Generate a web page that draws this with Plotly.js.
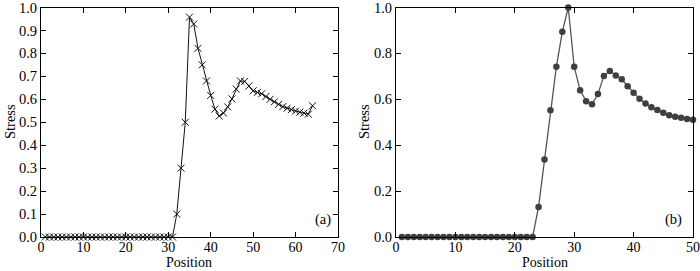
<!DOCTYPE html>
<html>
<head>
<meta charset="utf-8">
<script src="https://cdn.plot.ly/plotly-3.0.1.min.js"></script>
<style>html,body{margin:0;padding:0;background:#fff;}#chart{width:700px;height:271px;}</style>
</head>
<body>
<div id="chart"></div>
<script>
// Panel (a)
const posA = Array.from({length: 64}, (_, i) => i + 1);
const stressA = [
  0,0,0,0,0,0,0,0,0,0,
  0,0,0,0,0,0,0,0,0,0,
  0,0,0,0,0,0,0,0,0,0,
  0,
  0.10, 0.30, 0.50, 0.958, 0.928, 0.822, 0.750, 0.680, 0.617, 0.557,
  0.527, 0.540, 0.567, 0.602, 0.645, 0.680, 0.678, 0.658, 0.637, 0.630,
  0.624, 0.612, 0.600, 0.589, 0.578, 0.568, 0.561, 0.555, 0.549, 0.544,
  0.540, 0.535, 0.572
];
// Panel (b)
const posB = Array.from({length: 50}, (_, i) => i + 1);
const stressB = [
  0,0,0,0,0,0,0,0,0,0,
  0,0,0,0,0,0,0,0,0,0,
  0,0,0,
  0.131, 0.338, 0.552, 0.742, 0.894, 1.0, 0.742, 0.639, 0.592, 0.578, 0.623,
  0.702, 0.723, 0.704, 0.687, 0.657, 0.628, 0.602, 0.582, 0.565, 0.553,
  0.541, 0.531, 0.524, 0.520, 0.514, 0.511
];
const ticksA = [0,10,20,30,40,50,60,70];
const yticksA = [0,0.1,0.2,0.3,0.4,0.5,0.6,0.7,0.8,0.9,1.0];
const ticksB = [0,10,20,30,40,50];
const yticksB = [0,0.2,0.4,0.6,0.8,1.0];
const labelA = '(a)';
const labelB = '(b)';
const xTitle = 'Position';
const yTitle = 'Stress';

const fontFam = '"Liberation Serif", "Times New Roman", serif';
const tf = {family: fontFam, size: 14.5, color: '#000'};
const xf = {family: fontFam, size: 14, color: '#000'};
const traces = [
  {x: posA, y: stressA, xaxis: 'x', yaxis: 'y', mode: 'lines+markers', type: 'scatter',
   line: {color: '#111', width: 1},
   marker: {symbol: 'x-thin', size: 7, line: {color: '#111', width: 1}, color: '#111'},
   cliponaxis: false},
  {x: posB, y: stressB, xaxis: 'x2', yaxis: 'y2', mode: 'lines+markers', type: 'scatter',
   line: {color: '#555', width: 1.3},
   marker: {symbol: 'circle', size: 6.5, color: '#3f3f3f'},
   cliponaxis: false}
];
const axBase = {
  showline: true, mirror: 'ticks', linecolor: '#000', linewidth: 1,
  ticks: 'inside', ticklen: 5, tickcolor: '#000', tickwidth: 1,
  showgrid: false, zeroline: false, ticklabeloverflow: 'allow',
  tickfont: tf
};
const dA = [41/700, 338/700], dB = [396/700, 693/700];
const dy = [1-237/271, 1-7.5/271];
const layout = {
  width: 700, height: 271,
  margin: {l: 0, r: 0, t: 0, b: 0},
  paper_bgcolor: '#fff', plot_bgcolor: '#fff',
  showlegend: false,
  font: {family: fontFam, color: '#000'},
  xaxis: Object.assign({}, axBase, {domain: dA, range: [0, 70], tickvals: ticksA, anchor: 'y',
    tickfont: xf, ticklabelstandoff: -3}),
  yaxis: Object.assign({}, axBase, {domain: dy, range: [0, 1], tickvals: yticksA,
    tickformat: '.1f', anchor: 'x'}),
  xaxis2: Object.assign({}, axBase, {domain: dB, range: [0, 50], tickvals: ticksB, anchor: 'y2',
    tickfont: xf, ticklabelstandoff: -3}),
  yaxis2: Object.assign({}, axBase, {domain: dy, range: [0, 1], tickvals: yticksB,
    tickformat: '.1f', anchor: 'x2'}),
  annotations: [
    {text: labelA, xref: 'x', yref: 'y', x: 66.5, y: 0.075, showarrow: false, font: tf},
    {text: labelB, xref: 'x2', yref: 'y2', x: 46.7, y: 0.075, showarrow: false, font: tf},
    {text: xTitle, xref: 'paper', yref: 'paper', x: 189/700, y: -0.004, yanchor: 'bottom',
     xanchor: 'center', showarrow: false, font: xf},
    {text: xTitle, xref: 'paper', yref: 'paper', x: 545/700, y: -0.004, yanchor: 'bottom',
     xanchor: 'center', showarrow: false, font: xf},
    {text: yTitle, xref: 'paper', yref: 'paper', x: 10/700, y: 1-122/271, textangle: -90,
     xanchor: 'center', yanchor: 'middle', showarrow: false, font: tf},
    {text: yTitle, xref: 'paper', yref: 'paper', x: 364/700, y: 1-122/271, textangle: -90,
     xanchor: 'center', yanchor: 'middle', showarrow: false, font: tf}
  ]
};
Plotly.newPlot('chart', traces, layout, {staticPlot: true, displayModeBar: false});
</script>
</body>
</html>
